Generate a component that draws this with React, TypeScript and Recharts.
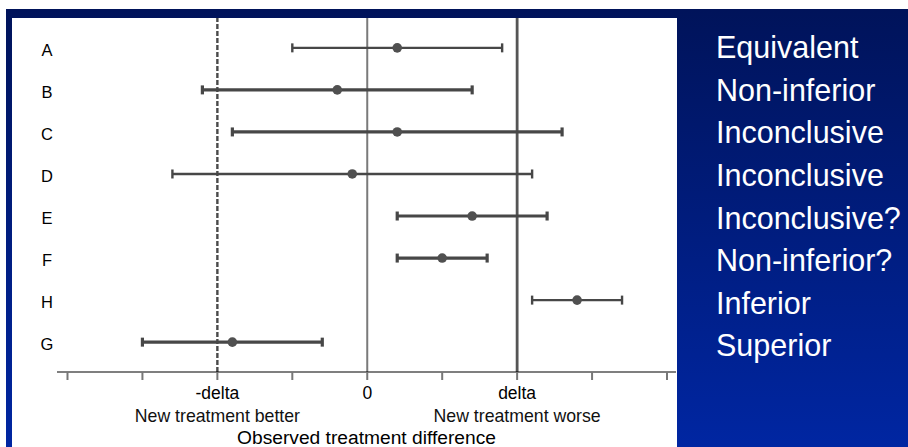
import React from 'react'
import {
  ScatterChart,
  Scatter,
  XAxis,
  YAxis,
  ErrorBar,
  ReferenceLine,
  Label,
} from 'recharts'

// trials, top to bottom
const categories = ['A', 'B', 'C', 'D', 'E', 'F', 'H', 'G']
const estimates = [0.4, -0.4, 0.4, -0.2, 1.4, 1.0, 2.8, -1.8]
const lowerCI = [-1.0, -2.2, -1.8, -2.6, 0.4, 0.4, 2.2, -3.0]
const upperCI = [1.8, 1.4, 2.6, 2.2, 2.4, 1.6, 3.4, -0.6]
const verdicts = [
  'Equivalent',
  'Non-inferior',
  'Inconclusive',
  'Inconclusive',
  'Inconclusive?',
  'Non-inferior?',
  'Inferior',
  'Superior',
]

const DELTA = 2
const xTicks = [-4, -3, -2, -1, 0, 1, 2, 3, 4]
const xTickLabels: Record<string, string> = { '-2': '-delta', '0': '0', '2': 'delta' }
const xSideNotes: Record<string, string> = {
  '-2': 'New treatment better',
  '2': 'New treatment worse',
}
const xTitle = 'Observed treatment difference'

// drawn with a thinner pen in the original
const thinRows = ['A', 'D', 'H']

const FONT = '"Liberation Sans", Arial, sans-serif'
const INK = '#474747'

const rows = categories.map((name, i) => ({
  name,
  x: estimates[i],
  y: i + 1,
  err: [estimates[i] - lowerCI[i], upperCI[i] - estimates[i]],
}))
const thin = rows.filter((r) => thinRows.includes(r.name))
const thick = rows.filter((r) => !thinRows.includes(r.name))

const Dot = (props: any) => (
  <circle cx={props.cx} cy={props.cy} r={4.8} fill="#505050" />
)

const XTick = (props: any) => {
  const { x, y, payload } = props
  const key = String(payload.value)
  return (
    <g fontFamily={FONT} fill="#000">
      {xTickLabels[key] && (
        <text x={x} y={y + 17} textAnchor="middle" fontSize={17.5}>
          {xTickLabels[key]}
        </text>
      )}
      {xSideNotes[key] && (
        <text x={x} y={y + 40} textAnchor="middle" fontSize={17.7} fill="#111">
          {xSideNotes[key]}
        </text>
      )}
    </g>
  )
}

const YTick = (props: any) => {
  const { y, payload } = props
  return (
    <text x={35} y={y + 8} textAnchor="middle" fontSize={16.5} fontFamily={FONT} fill="#000">
      {categories[payload.value - 1]}
    </text>
  )
}

export default function App() {
  return (
    <div>
      <div
        style={{
          position: 'absolute',
          left: 6,
          top: 9,
          width: 902,
          height: 438,
          background: 'linear-gradient(#00135a, #0026a2)',
        }}
      />
      <div
        style={{
          position: 'absolute',
          left: 12,
          top: 18,
          width: 664.5,
          height: 429,
          background: '#fff',
        }}
      >
        <ScatterChart width={664} height={429} margin={{ top: 0, right: 0, bottom: 0, left: 0 }}>
          <XAxis
            type="number"
            dataKey="x"
            domain={[-4.14, 4.12]}
            allowDataOverflow
            ticks={xTicks}
            interval={0}
            height={75}
            tickSize={8}
            tickMargin={2}
            axisLine={{ stroke: '#000', strokeWidth: 1.2 }}
            tickLine={{ stroke: '#777', strokeWidth: 2 }}
            tick={<XTick />}
          >
            <Label
              value={xTitle}
              position="insideBottom"
              offset={3}
              style={{ fontFamily: FONT, fontSize: 19.2, fill: '#000' }}
            />
          </XAxis>
          <YAxis
            type="number"
            dataKey="y"
            domain={[0.29, 8.71]}
            allowDataOverflow
            reversed
            ticks={[1, 2, 3, 4, 5, 6, 7, 8]}
            interval={0}
            width={45}
            axisLine={false}
            tickLine={false}
            tick={<YTick />}
          />
          <ReferenceLine x={-DELTA} stroke="#4a4a4a" strokeWidth={2.4} strokeDasharray="5 2" />
          <ReferenceLine x={0} stroke="#7a7a7a" strokeWidth={2} />
          <ReferenceLine x={DELTA} stroke="#555" strokeWidth={2.8} />
          <Scatter data={thin} shape={<Dot />} isAnimationActive={false}>
            <ErrorBar dataKey="err" direction="x" width={4.5} stroke={INK} strokeWidth={2.4} />
          </Scatter>
          <Scatter data={thick} shape={<Dot />} isAnimationActive={false}>
            <ErrorBar dataKey="err" direction="x" width={4.5} stroke={INK} strokeWidth={3.2} />
          </Scatter>
        </ScatterChart>
      </div>
      <div
        style={{
          position: 'absolute',
          left: 716,
          top: 26.3,
          fontFamily: FONT,
          fontSize: 30.5,
          lineHeight: '42.6px',
          color: '#fff',
          whiteSpace: 'nowrap',
        }}
      >
        {verdicts.map((v, i) => (
          <div key={i}>{v}</div>
        ))}
      </div>
    </div>
  )
}
